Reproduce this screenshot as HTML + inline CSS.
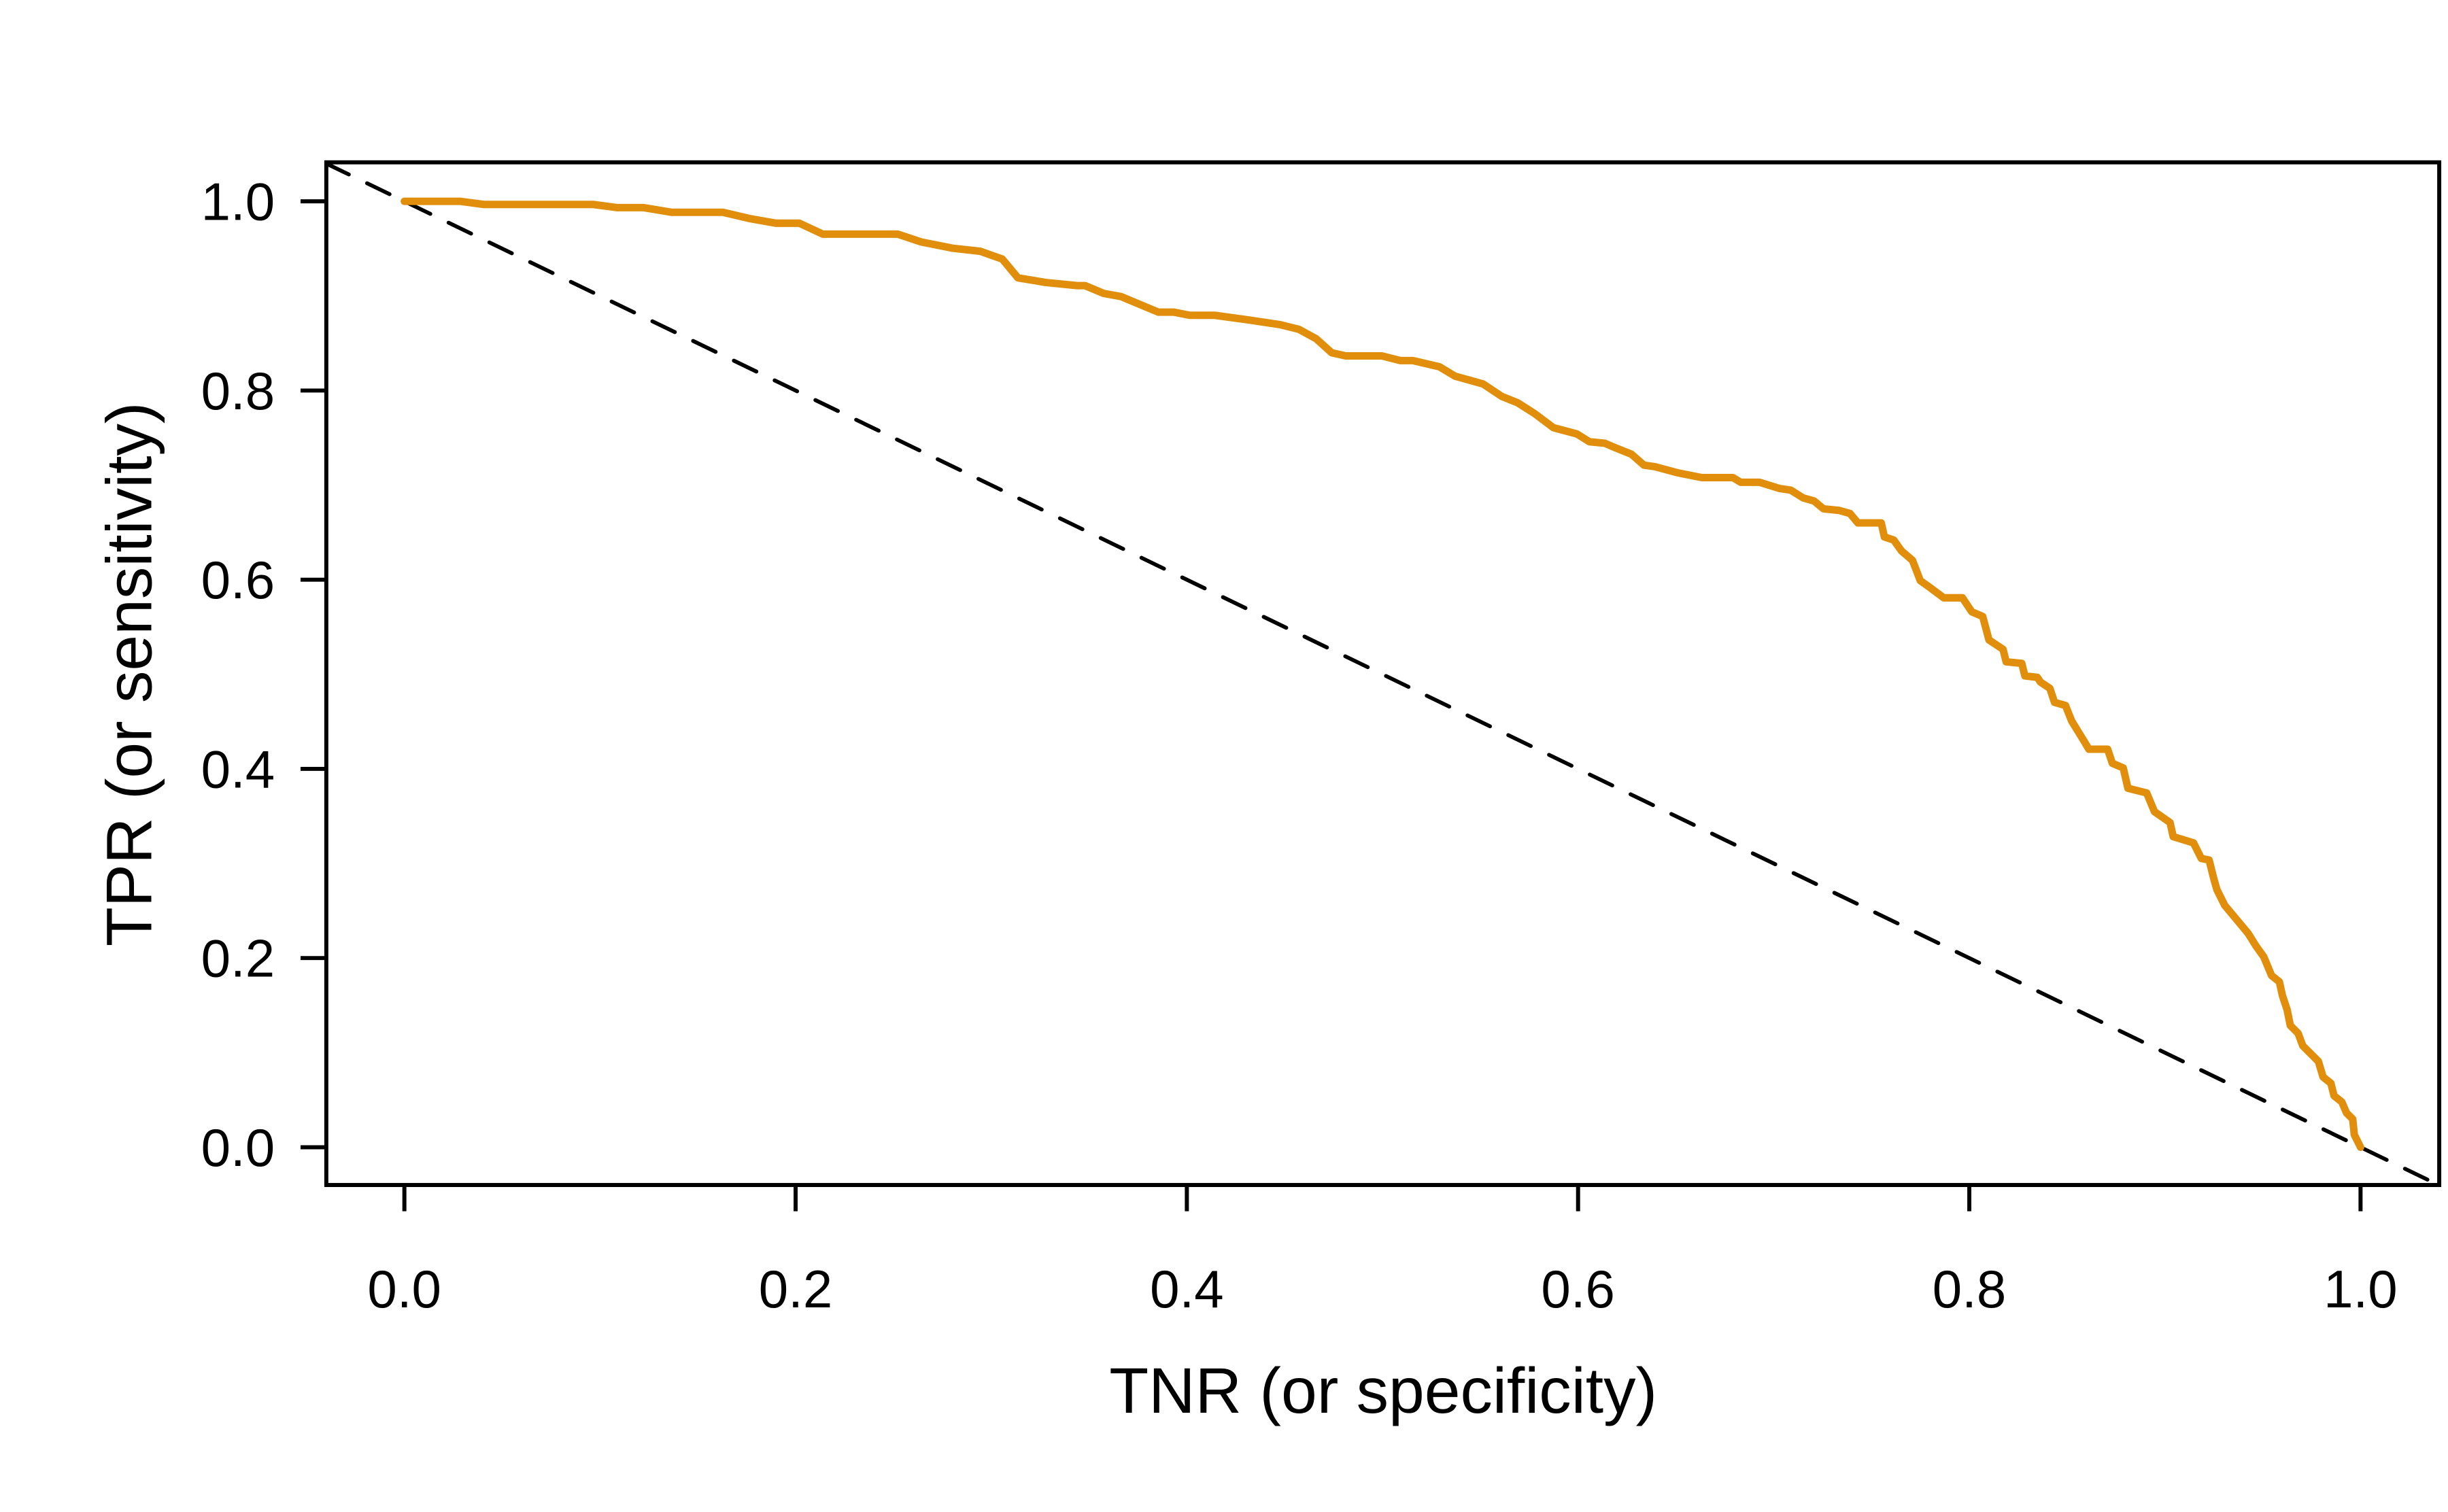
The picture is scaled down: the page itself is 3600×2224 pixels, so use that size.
<!DOCTYPE html>
<html><head><meta charset="utf-8"><style>html,body{margin:0;padding:0;background:#fff}svg{display:block}</style></head>
<body>
<svg xmlns="http://www.w3.org/2000/svg" width="3600" height="2224" viewBox="0 0 1568 968.7">
<rect width="1568" height="968.7" fill="#fff"/>
<defs><clipPath id="c"><rect x="209" y="104" width="1353.4" height="655.2"/></clipPath></defs>
<line x1="209" y1="104.8" x2="1562.4" y2="759.4" stroke="#000" stroke-width="2.5" stroke-dasharray="16 13" stroke-linecap="round" clip-path="url(#c)"/>
<polyline clip-path="url(#c)" fill="none" stroke="#E08E0B" stroke-width="4.8" stroke-linejoin="round" stroke-linecap="round" points="259,129 295,129 310,131 380,131 395,133 412,133 430,136 463,136 480,140 497,143 512,143 527,150 575,150 590,155 610,159 628,161 642,166 652,178 670,181 690,183 695,183 707,188 718,190 730,195 742,200 752,200 762,202 778,202 800,205 820,208 832,211 843,217 853,226 862,228 885,228 897,231 905,231 922,235 932,241 950,246 962,254 972,258 983,265 995,274 1010,278 1018,283 1028,284 1035,287 1045,291 1053,298 1060,299 1075,303 1090,306 1110,306 1115,309 1127,309 1140,313 1147,314 1155,319 1162,321 1168,326 1178,327 1185,329 1190,335 1205,335 1207,344 1213,346 1218,353 1225,359 1230,372 1237,377 1245,383 1257,383 1263,392 1270,395 1274,410 1283,416 1285,424 1295,425 1297,433 1305,434 1307,437 1313,441 1316,450 1323,452 1327,462 1335,475 1338,480 1350,480 1353,489 1360,492 1363,505 1375,508 1380,520 1390,527 1392,536 1405,540 1410,550 1415,551 1418,563 1420,570 1425,580 1430,586 1435,592 1440,598 1445,606 1450,613 1455,625 1460,629 1462,638 1465,647 1467,657 1472,662 1475,670 1480,675 1485,680 1488,690 1493,694 1495,702 1500,706 1503,713 1507,717 1508,727 1512,735"/>
<rect x="209" y="104" width="1353.4" height="655.2" fill="none" stroke="#000" stroke-width="2.6"/>
<g stroke="#000" stroke-width="2.6">
<line x1="259" y1="759" x2="259" y2="776"/><line x1="509.6" y1="759" x2="509.6" y2="776"/><line x1="760.2" y1="759" x2="760.2" y2="776"/><line x1="1010.8" y1="759" x2="1010.8" y2="776"/><line x1="1261.4" y1="759" x2="1261.4" y2="776"/><line x1="1512" y1="759" x2="1512" y2="776"/>
<line x1="192.5" y1="129" x2="209" y2="129"/><line x1="192.5" y1="250.2" x2="209" y2="250.2"/><line x1="192.5" y1="371.4" x2="209" y2="371.4"/><line x1="192.5" y1="492.6" x2="209" y2="492.6"/><line x1="192.5" y1="613.8" x2="209" y2="613.8"/><line x1="192.5" y1="735" x2="209" y2="735"/>
</g>
<g font-family="Liberation Sans, Arial, sans-serif" font-size="34" fill="#000" text-anchor="middle">
<text x="259" y="837.6">0.0</text><text x="509.6" y="837.6">0.2</text><text x="760.2" y="837.6">0.4</text><text x="1010.8" y="837.6">0.6</text><text x="1261.4" y="837.6">0.8</text><text x="1512" y="837.6">1.0</text>
</g>
<g font-family="Liberation Sans, Arial, sans-serif" font-size="34" fill="#000" text-anchor="end">
<text x="176" y="141">1.0</text><text x="176" y="262.2">0.8</text><text x="176" y="383.4">0.6</text><text x="176" y="504.6">0.4</text><text x="176" y="625.8">0.2</text><text x="176" y="747">0.0</text>
</g>
<g font-family="Liberation Sans, Arial, sans-serif" font-size="41.3" fill="#000" text-anchor="middle">
<text x="886" y="905">TNR (or specificity)</text>
<text transform="translate(97,432) rotate(-90)">TPR (or sensitivity)</text>
</g>
</svg>
</body></html>
